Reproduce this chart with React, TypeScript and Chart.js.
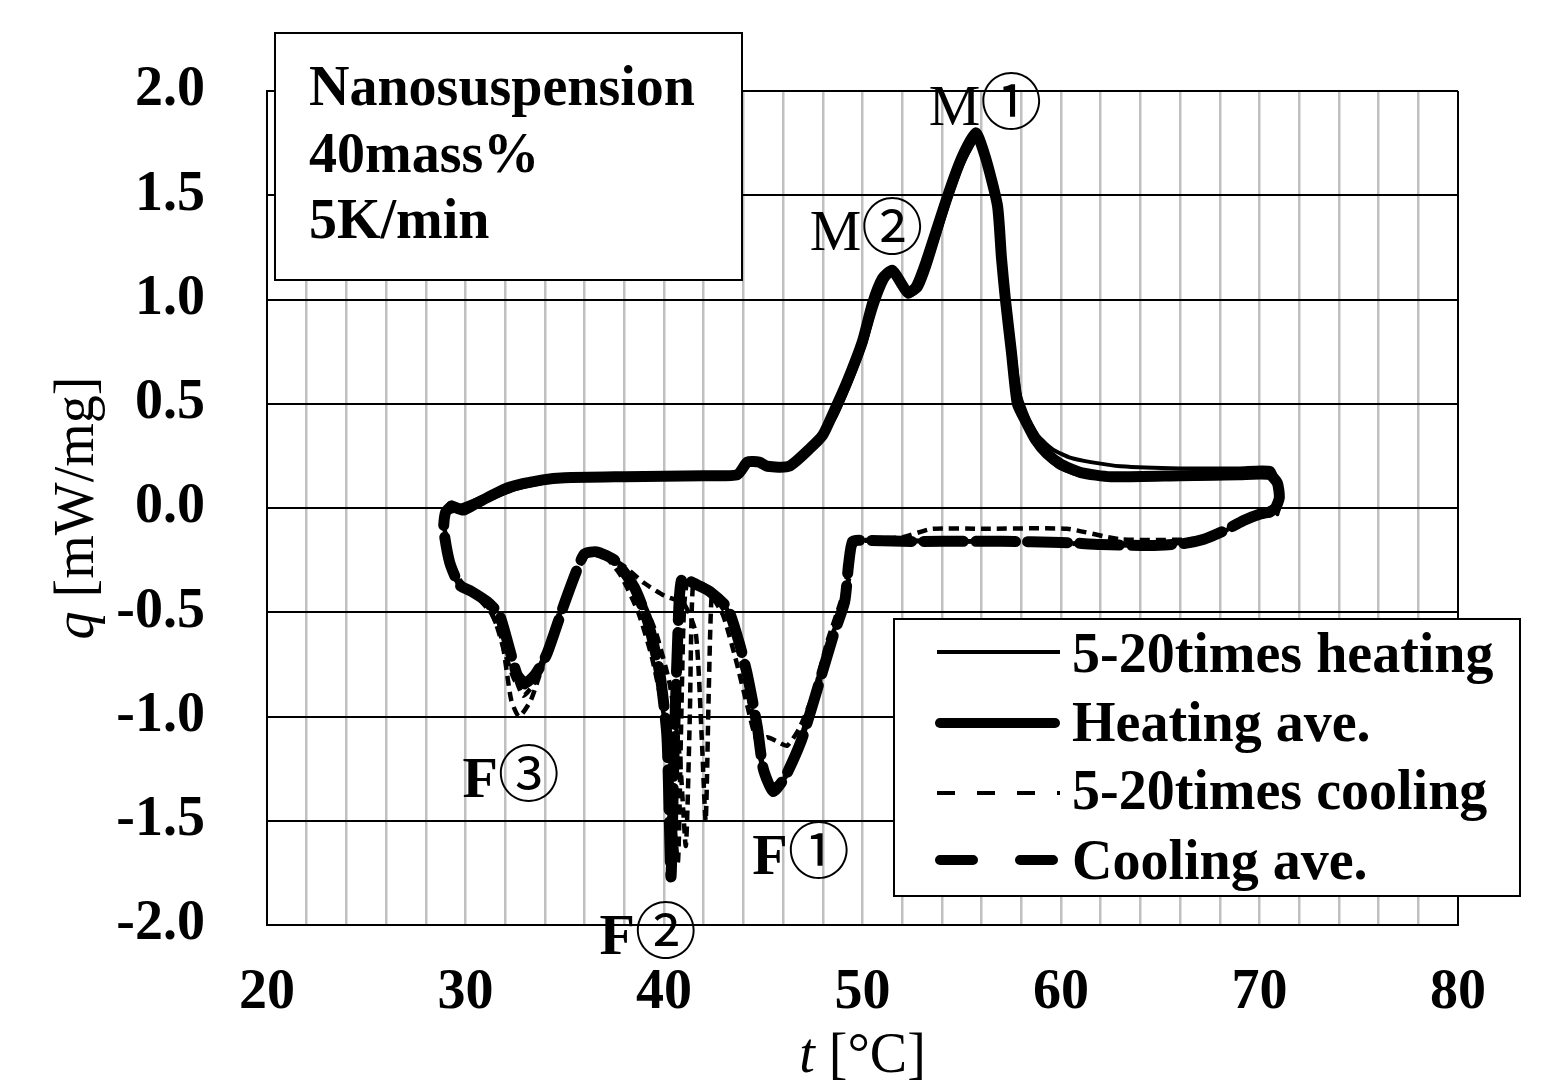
import React, { useEffect, useRef } from 'react';
import { Chart, registerables } from 'chart.js';

Chart.register(...registerables);

const SERIF = '"Liberation Serif", "Times New Roman", serif';
const CIRCLED = '"Noto Sans CJK JP", "Noto Sans CJK SC", sans-serif';

// ---------- data (t in °C, q in mW/mg) ----------
const heatAveT = [29.3, 29.9, 30.5, 31.1, 32.2, 33.9, 35.0, 38.0, 42.0, 43.7, 44.2, 44.8, 45.2, 46.3, 47.4, 48.0, 48.5, 49.2, 50.0, 50.5, 51.0, 51.5, 52.0, 52.3, 52.7, 53.2, 54.3, 55.0, 55.7, 56.2, 56.8, 57.0, 57.2, 57.5, 57.8, 58.2, 58.7, 59.3, 60.0, 61.0, 62.5, 66.0, 69.0, 70.5, 70.9, 71.0, 70.8, 70.5];
const heatAveQ = [0.01, -0.01, 0.02, 0.05, 0.10, 0.135, 0.145, 0.15, 0.155, 0.16, 0.22, 0.22, 0.20, 0.20, 0.29, 0.35, 0.45, 0.60, 0.80, 0.98, 1.10, 1.14, 1.07, 1.03, 1.06, 1.18, 1.50, 1.68, 1.80, 1.68, 1.45, 1.20, 1.00, 0.75, 0.50, 0.42, 0.33, 0.26, 0.21, 0.17, 0.15, 0.155, 0.16, 0.16, 0.12, 0.05, 0.00, -0.02];

const heatRunAT = [29.3, 30.0, 31.0, 32.2, 34.0, 38.0, 42.0, 43.6, 44.1, 44.9, 45.3, 46.3, 47.4, 48.5, 49.2, 50.0, 50.6, 51.1, 51.5, 52.0, 52.3, 52.8, 53.3, 54.3, 55.0, 55.7, 56.2, 56.8, 57.1, 57.5, 57.9, 58.4, 58.9, 59.6, 60.5, 61.5, 63.0, 66.0, 69.0, 70.6, 71.0, 70.8];
const heatRunAQ = [0.0, 0.02, 0.06, 0.11, 0.14, 0.155, 0.16, 0.165, 0.23, 0.23, 0.19, 0.19, 0.28, 0.44, 0.59, 0.80, 1.0, 1.11, 1.15, 1.08, 1.04, 1.07, 1.2, 1.5, 1.7, 1.79, 1.66, 1.42, 1.15, 0.8, 0.55, 0.42, 0.34, 0.28, 0.24, 0.22, 0.2, 0.19, 0.19, 0.19, 0.1, 0.0];

const heatRunBT = [29.2, 30.0, 31.2, 32.5, 34.5, 38.0, 42.0, 43.8, 44.3, 44.8, 45.2, 46.4, 47.5, 48.6, 49.3, 50.1, 50.7, 51.2, 51.6, 52.1, 52.4, 52.9, 53.4, 54.4, 55.1, 55.8, 56.3, 56.9, 57.2, 57.6, 58.0, 58.4, 59.0, 59.8, 61.0, 63.0, 66.0, 69.0, 70.6, 71.1, 70.9];
const heatRunBQ = [-0.02, 0.0, 0.04, 0.09, 0.13, 0.145, 0.15, 0.155, 0.21, 0.21, 0.19, 0.2, 0.29, 0.43, 0.58, 0.78, 0.97, 1.09, 1.13, 1.06, 1.02, 1.05, 1.17, 1.48, 1.66, 1.77, 1.64, 1.4, 1.12, 0.78, 0.5, 0.38, 0.28, 0.2, 0.155, 0.14, 0.14, 0.145, 0.15, 0.05, -0.03];

const coolAveT = [70.5, 70.0, 69.2, 68.2, 67.2, 66.2, 64.5, 62.0, 60.0, 57.0, 54.0, 52.0, 50.0, 49.5, 49.3, 49.1, 48.5, 47.5, 46.9, 46.1, 45.5, 45.0, 44.7, 44.2, 43.8, 43.2, 42.3, 41.7, 40.9, 40.7, 40.5, 40.35, 40.15, 39.8, 39.2, 38.5, 37.5, 36.6, 36.0, 35.6, 34.9, 34.1, 33.5, 33.0, 32.6, 32.2, 31.7, 31.1, 30.3, 29.7, 29.2, 28.9, 29.0, 29.3];
const coolAveQ = [-0.02, -0.03, -0.06, -0.11, -0.15, -0.17, -0.18, -0.175, -0.165, -0.16, -0.16, -0.16, -0.155, -0.16, -0.27, -0.45, -0.62, -0.94, -1.12, -1.29, -1.36, -1.25, -1.05, -0.80, -0.65, -0.48, -0.40, -0.37, -0.34, -0.60, -1.20, -1.77, -1.10, -0.80, -0.55, -0.38, -0.25, -0.21, -0.22, -0.30, -0.48, -0.70, -0.80, -0.84, -0.80, -0.67, -0.51, -0.45, -0.40, -0.37, -0.26, -0.10, -0.02, 0.01];

const coolRunAT = [70.6, 69.5, 68.0, 66.5, 63.0, 60.3, 56.0, 53.5, 52.0, 49.6, 49.4, 49.0, 48.3, 47.5, 46.8, 46.2, 45.7, 45.2, 44.7, 44.2, 43.6, 43.0, 42.6, 42.4, 42.25, 42.1, 41.9, 41.6, 41.0, 40.0, 39.0, 38.0, 37.0, 36.3, 35.6, 34.8, 34.0, 33.3, 32.7, 32.3, 31.8, 31.1, 30.2, 29.4, 29.0, 29.1];
const coolRunAQ = [0.0, -0.05, -0.12, -0.15, -0.15, -0.10, -0.10, -0.10, -0.14, -0.16, -0.30, -0.48, -0.65, -0.90, -1.06, -1.14, -1.12, -1.10, -1.12, -0.95, -0.72, -0.52, -0.45, -0.42, -0.90, -1.50, -1.10, -0.60, -0.46, -0.42, -0.36, -0.28, -0.22, -0.20, -0.30, -0.48, -0.72, -0.92, -1.00, -0.92, -0.62, -0.47, -0.40, -0.30, -0.12, 0.0];

const coolRunBT = [70.4, 69.3, 68.0, 66.8, 64.0, 60.0, 56.0, 52.0, 49.8, 49.5, 49.2, 48.5, 47.6, 46.9, 46.2, 45.6, 45.1, 44.7, 44.2, 43.7, 43.1, 42.5, 41.8, 41.45, 41.3, 41.1, 40.8, 40.3, 39.6, 38.8, 37.8, 36.8, 36.2, 35.5, 34.8, 34.0, 33.4, 32.9, 32.4, 31.9, 31.2, 30.4, 29.6, 29.1, 28.9];
const coolRunBQ = [-0.01, -0.07, -0.13, -0.16, -0.18, -0.17, -0.16, -0.16, -0.16, -0.20, -0.38, -0.60, -0.92, -1.12, -1.28, -1.34, -1.28, -1.10, -0.85, -0.63, -0.47, -0.40, -0.36, -0.38, -1.00, -1.62, -1.20, -0.85, -0.60, -0.42, -0.28, -0.21, -0.22, -0.32, -0.50, -0.72, -0.85, -0.90, -0.78, -0.60, -0.47, -0.42, -0.36, -0.22, -0.05];

const coolRunCT = [70.5, 69.0, 67.5, 65.0, 60.0, 55.0, 51.0, 49.7, 49.4, 49.0, 48.2, 47.4, 46.6, 46.0, 45.4, 44.9, 44.5, 44.0, 43.4, 42.6, 41.9, 41.2, 41.0, 40.85, 40.7, 40.4, 40.0, 39.4, 38.7, 37.8, 36.9, 36.3, 35.7, 35.0, 34.2, 33.5, 33.0, 32.5, 32.0, 31.4, 30.6, 29.8, 29.2, 28.9];
const coolRunCQ = [-0.02, -0.08, -0.14, -0.17, -0.17, -0.16, -0.155, -0.16, -0.25, -0.42, -0.65, -0.95, -1.18, -1.30, -1.33, -1.22, -1.02, -0.78, -0.56, -0.43, -0.38, -0.35, -0.50, -1.10, -1.70, -1.35, -1.00, -0.72, -0.50, -0.32, -0.22, -0.20, -0.27, -0.44, -0.66, -0.80, -0.86, -0.83, -0.70, -0.52, -0.43, -0.38, -0.24, -0.06];

// ---------- texts ----------
const infoLines = ['Nanosuspension', '40mass%', '5K/min'];
const legendLabels = ['5-20times heating', 'Heating ave.', '5-20times cooling', 'Cooling ave.'];
const peakLetters = ['M', 'M', 'F', 'F', 'F'];
const peakCircled = ['①', '②', '③', '①', '②'];
const peakT = [56.2, 50.2, 32.3, 46.9, 39.2];
const peakQ = [1.94, 1.34, -1.285, -1.655, -2.04];
const peakBold = [false, false, true, true, true];

const pts = (t: number[], q: number[]) => t.map((v, i) => ({ x: v, y: q[i] }));

const legendStyles = [
  { width: 4, dash: [] as number[], cap: 'butt' },
  { width: 10, dash: [] as number[], cap: 'round' },
  { width: 4, dash: [18, 22], cap: 'butt' },
  { width: 10, dash: [33, 47], cap: 'round' },
];

const overlayPlugin = {
  id: 'overlay',
  beforeDraw(chart: any) {
    const ctx = chart.ctx;
    ctx.save();
    ctx.fillStyle = '#fff';
    ctx.fillRect(0, 0, chart.width, chart.height);
    ctx.restore();
  },
  afterDraw(chart: any) {
    const ctx = chart.ctx;
    const xs = chart.scales.x;
    const ys = chart.scales.y;
    ctx.save();
    ctx.fillStyle = '#000';
    ctx.strokeStyle = '#000';
    ctx.textBaseline = 'alphabetic';

    const drawMixed = (parts: { t: string; f: string }[], x: number, y: number) => {
      let total = 0;
      parts.forEach((p) => { ctx.font = p.f; total += ctx.measureText(p.t).width; });
      let cx = x - total / 2;
      ctx.textAlign = 'left';
      parts.forEach((p) => { ctx.font = p.f; ctx.fillText(p.t, cx, y); cx += ctx.measureText(p.t).width; });
    };

    // axis titles
    const xc = (chart.chartArea.left + chart.chartArea.right) / 2;
    drawMixed([{ t: 't', f: `italic 56px ${SERIF}` }, { t: ' [°C]', f: `56px ${SERIF}` }], xc, 1072);
    ctx.save();
    ctx.translate(93, (chart.chartArea.top + chart.chartArea.bottom) / 2);
    ctx.rotate(-Math.PI / 2);
    drawMixed([{ t: 'q', f: `italic 56px ${SERIF}` }, { t: ' [mW/mg]', f: `56px ${SERIF}` }], 0, 0);
    ctx.restore();

    // info box
    ctx.fillStyle = '#fff';
    ctx.fillRect(275, 33, 467, 247);
    ctx.lineWidth = 2;
    ctx.strokeRect(275, 33, 467, 247);
    ctx.fillStyle = '#000';
    ctx.font = `bold 56px ${SERIF}`;
    ctx.textAlign = 'left';
    infoLines.forEach((s, i) => ctx.fillText(s, 309, 105 + i * 66.5));

    // legend
    ctx.fillStyle = '#fff';
    ctx.fillRect(894, 619, 626, 277);
    ctx.lineWidth = 2;
    ctx.strokeRect(894, 619, 626, 277);
    const rowLine = [652, 723, 793, 860];
    const rowBase = [672, 741, 809, 879];
    legendLabels.forEach((s, i) => {
      const st = legendStyles[i];
      ctx.save();
      ctx.lineWidth = st.width;
      ctx.lineCap = st.cap;
      ctx.setLineDash(st.dash);
      ctx.beginPath();
      const x0 = st.cap === 'round' ? 940 : 937;
      const x1 = st.cap === 'round' ? 1055 : 1060;
      ctx.moveTo(x0, rowLine[i]);
      ctx.lineTo(x1, rowLine[i]);
      ctx.stroke();
      ctx.restore();
      ctx.fillStyle = '#000';
      ctx.font = `bold 56px ${SERIF}`;
      ctx.textAlign = 'left';
      ctx.fillText(s, 1072, rowBase[i]);
    });

    // peak labels (letter + circled number), anchored to data coordinates
    peakLetters.forEach((s, i) => {
      const cx = xs.getPixelForValue(peakT[i]);
      const cy = ys.getPixelForValue(peakQ[i]);
      drawMixed(
        [
          { t: s, f: `${peakBold[i] ? 'bold ' : ''}58px ${SERIF}` },
          { t: peakCircled[i], f: `62px ${CIRCLED}` },
        ],
        cx,
        cy + 21,
      );
    });
    ctx.restore();
  },
};

export default function App() {
  const ref = useRef<HTMLCanvasElement>(null);
  useEffect(() => {
    const canvas = ref.current;
    if (!canvas) return;
    const base = { showLine: true, pointRadius: 0, borderColor: '#000', backgroundColor: '#000', tension: 0.2, borderJoinStyle: 'round' as const, borderCapStyle: 'round' as const };
    const chart = new Chart(canvas, {
      type: 'scatter',
      data: {
        datasets: [
          { ...base, label: '5-20times heating', data: pts(heatRunAT, heatRunAQ), borderWidth: 4 },
          { ...base, label: '5-20times heating B', data: pts(heatRunBT, heatRunBQ), borderWidth: 4 },
          { ...base, label: 'Heating ave.', data: pts(heatAveT, heatAveQ), borderWidth: 11 },
          { ...base, label: '5-20times cooling', data: pts(coolRunAT, coolRunAQ), borderWidth: 4.5, borderDash: [10, 6], borderCapStyle: 'butt' as const },
          { ...base, label: '5-20times cooling B', data: pts(coolRunBT, coolRunBQ), borderWidth: 4.5, borderDash: [10, 6], borderCapStyle: 'butt' as const },
          { ...base, label: '5-20times cooling C', data: pts(coolRunCT, coolRunCQ), borderWidth: 4.5, borderDash: [10, 6], borderCapStyle: 'butt' as const },
          { ...base, label: 'Cooling ave.', data: pts(coolAveT, coolAveQ), borderWidth: 11, borderDash: [40, 12] },
        ],
      },
      options: {
        animation: false,
        responsive: false,
        maintainAspectRatio: false,
        layout: { autoPadding: false, padding: { top: 91, right: 100, left: 0, bottom: 0 } },
        plugins: { legend: { display: false }, tooltip: { enabled: false } },
        scales: {
          x: {
            type: 'linear',
            min: 20,
            max: 80,
            afterFit: (s: any) => { s.height = 160; },
            ticks: {
              stepSize: 2,
              autoSkip: false,
              maxRotation: 0,
              padding: 35,
              color: '#000',
              font: { family: SERIF, size: 56, weight: 'bold' },
              callback: (v: any) => (Math.round(v) % 10 === 0 ? String(Math.round(v)) : ''),
            },
            grid: {
              drawTicks: false,
              color: (c: any) => (c.tick && (c.tick.value === 20 || c.tick.value === 80) ? '#000' : '#c0c0c0'),
              lineWidth: (c: any) => (c.tick && (c.tick.value === 20 || c.tick.value === 80) ? 2 : 2.5),
            },
            border: { display: true, color: '#000', width: 2 },
          },
          y: {
            type: 'linear',
            min: -2,
            max: 2,
            afterFit: (s: any) => { s.width = 267; },
            ticks: {
              stepSize: 0.5,
              padding: 62,
              color: '#000',
              font: { family: SERIF, size: 56, weight: 'bold', lineHeight: 0.8 },
              callback: (v: any) => Number(v).toFixed(1),
            },
            grid: { drawTicks: false, color: '#000', lineWidth: 2 },
            border: { display: true, color: '#000', width: 2 },
          },
        },
      },
      plugins: [overlayPlugin],
    } as any);
    return () => chart.destroy();
  }, []);
  return (
    <div style={{ position: 'absolute', left: 0, top: 0, width: 1558, height: 1085, background: '#fff' }}>
      <canvas ref={ref} width={1558} height={1085} style={{ display: 'block', width: 1558, height: 1085 }} />
    </div>
  );
}
